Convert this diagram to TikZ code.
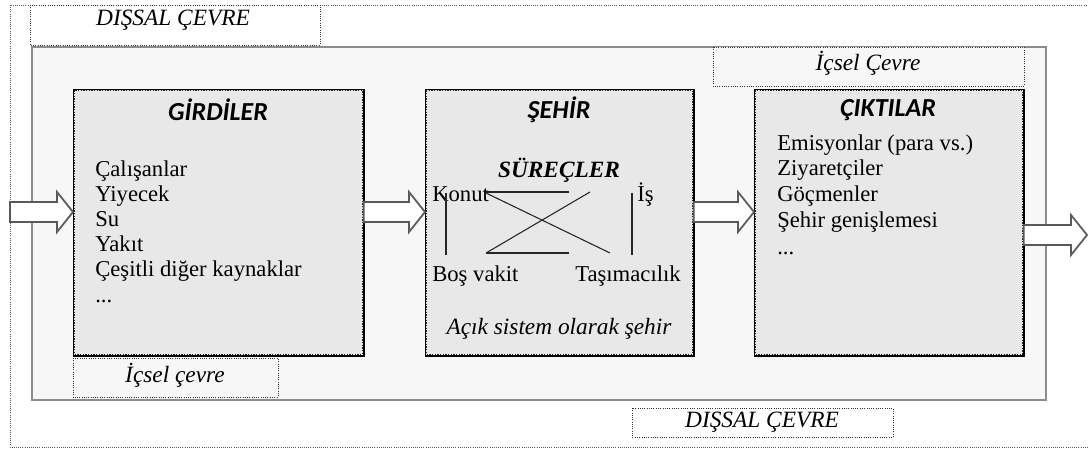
\documentclass[tikz,border=0pt]{standalone}
\usepackage{fontspec}
\setmainfont{Liberation Serif}
\newfontfamily\headfont{Carlito}
\usetikzlibrary{calc}
\definecolor{panelgray}{gray}{0.97}
\definecolor{boxgray}{gray}{0.91}
\tikzstyle{frame} = [draw=black!65, densely dotted, line width=0.6pt]
\tikzstyle{panel} = [draw=black!45, fill=panelgray, line width=1pt]
\tikzstyle{tag} = [draw=black!80, densely dotted, line width=0.7pt]
\tikzstyle{part} = [draw=black, fill=boxgray, line width=0.6pt, inner sep=0, anchor=north west, minimum height=199.5pt]
\tikzstyle{dots} = [draw=black!85, densely dotted, line width=1pt]
\tikzstyle{rim} = [draw=black, line width=1pt]
\tikzstyle{flow} = [draw=black!65, fill=white, line width=1.3pt, line join=miter]
\tikzstyle{link} = [draw=black!85, line width=0.8pt]
\tikzstyle{head} = [inner sep=0, font=\headfont\bfseries\itshape\fontsize{19.5}{22}\selectfont]
\tikzstyle{item} = [anchor=west, inner sep=0, text height=1.6ex, text depth=0.4ex, font=\fontsize{17}{20}\selectfont]
\tikzstyle{note} = [inner sep=0, font=\itshape\fontsize{17.5}{20}\selectfont]
\newcommand{\fatarrow}[2]{%
  \draw[flow] ($(#1)+(0,-10)$) -- ($(#2)+(-16,-10)$) -- ($(#2)+(-16,-20)$) -- (#2)
    -- ($(#2)+(-16,20)$) -- ($(#2)+(-16,10)$) -- ($(#1)+(0,10)$) -- cycle;}

\begin{document}
\begin{tikzpicture}[x=0.75pt, y=-0.75pt]
      \clip (0,0) rectangle (1088,449);
      \draw[frame] (10,5) rectangle (1110,447);
      \draw[tag, fill=white] (30,5) rectangle (320,45);
      \draw[panel] (32,47) rectangle (1046,400);
      \draw[tag, fill=panelgray] (713,47) rectangle (1024,86);
      \draw[tag, fill=panelgray] (73,358) rectangle (278,397);
      \draw[tag, fill=white] (632,408) rectangle (893,437);

      \node (girdi) at (73,89) [part, minimum width=217.5pt] {};
      \node (sehir) at (425,89) [part, minimum width=201pt] {};
      \node (cikti) at (754,89) [part, minimum width=201.75pt] {};
      \draw[dots] ([shift={(1.1pt,-1.1pt)}]girdi.north west) rectangle ([shift={(-1.1pt,1.1pt)}]girdi.south east);
      \draw[dots] ([shift={(1.1pt,-1.1pt)}]sehir.north west) rectangle ([shift={(-1.1pt,1.1pt)}]sehir.south east);
      \draw[dots] ([shift={(1.1pt,-1.1pt)}]cikti.north west) rectangle ([shift={(-1.1pt,1.1pt)}]cikti.south east);
      \draw[rim] ([xshift=0.6pt]girdi.north east) -- ([shift={(0.6pt,-0.6pt)}]girdi.south east) -- ([yshift=-0.6pt]girdi.south west);
      \draw[rim] ([xshift=0.6pt]sehir.north east) -- ([shift={(0.6pt,-0.6pt)}]sehir.south east) -- ([yshift=-0.6pt]sehir.south west);
      \draw[rim] ([xshift=0.6pt]cikti.north east) -- ([shift={(0.6pt,-0.6pt)}]cikti.south east) -- ([yshift=-0.6pt]cikti.south west);

      \node (dtop) at (173,20) [note] {DIŞSAL ÇEVRE};
      \node (itop) at (868,63) [note] {İçsel Çevre};
      \node (ibot) at (175,375) [note] {İçsel çevre};
      \node (dbot) at (762,422) [note] {DIŞSAL ÇEVRE};

      \node (girdihead) at (218,110) [head] {GİRDİLER};
      \node (calisan) at (95,173) [item] {Çalışanlar};
      \node (yiyecek) at (95,198) [item] {Yiyecek};
      \node (su) at (95,223) [item] {Su};
      \node (yakit) at (95,248) [item] {Yakıt};
      \node (kaynak) at (95,273) [item] {Çeşitli diğer kaynaklar};
      \node (girdidots) at (95,299) [item] {...};

      \node (sehirhead) at (559,110) [head] {ŞEHİR};
      \node (surec) at (559,170) [note, font=\bfseries\itshape\fontsize{17.5}{20}\selectfont] {SÜREÇLER};
      \node (konut) at (432,198) [item] {Konut};
      \node (is) at (637,198) [item] {İş};
      \node (bos) at (432,278) [item] {Boş vakit};
      \node (tasima) at (575,278) [item] {Taşımacılık};
      \node (acik) at (559,329) [note] {Açık sistem olarak şehir};
      \draw[link] (446,193) -- (446,255);
      \draw[link] (632,193) -- (632,255);
      \draw[link] (486,192) -- (569,192);
      \draw[link] (486,253) -- (569,253);
      \draw[link] (486,193) -- (610,253);
      \draw[link] (590,192) -- (486,253);

      \node (ciktihead) at (888,110) [head] {ÇIKTILAR};
      \node (emisyon) at (777,147) [item] {Emisyonlar (para vs.)};
      \node (ziyaret) at (777,172) [item] {Ziyaretçiler};
      \node (gocmen) at (777,198) [item] {Göçmenler};
      \node (genis) at (777,224) [item] {Şehir genişlemesi};
      \node (ciktidots) at (777,251) [item] {...};

      \coordinate (in) at (10,212);
      \coordinate (out) at (1087,235);
      \coordinate (g0) at (girdi.west |- in);
      \coordinate (g1) at (girdi.east |- in);
      \coordinate (s0) at (sehir.west |- in);
      \coordinate (s1) at (sehir.east |- in);
      \coordinate (c0) at (cikti.west |- in);
      \coordinate (c1) at (cikti.east |- out);
      \fatarrow{in}{g0}
      \fatarrow{g1}{s0}
      \fatarrow{s1}{c0}
      \fatarrow{c1}{out}
    \end{tikzpicture}
\end{document}
